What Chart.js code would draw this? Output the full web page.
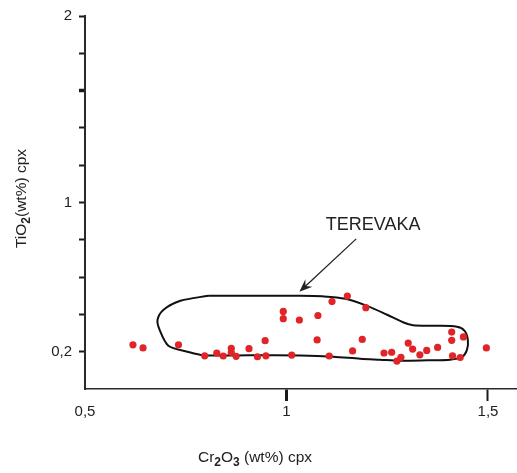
<!DOCTYPE html>
<html>
<head>
<meta charset="utf-8" />
<title>TiO2 vs Cr2O3 cpx</title>
<script src="https://cdn.jsdelivr.net/npm/chart.js@4.4.0/dist/chart.umd.min.js"></script>
<style>
  body { margin: 0; background: #fff; }
  canvas { display: block; }
</style>
</head>
<body>
<canvas id="chart" width="517" height="473"></canvas>
<script>
// clinopyroxene analyses, Cr2O3 (x) vs TiO2 (y), wt%
var cr2o3 = [0.619, 0.644, 0.732, 0.797, 0.827, 0.843, 0.863, 0.863, 0.875, 0.907,
             0.928, 0.947, 0.949, 0.992, 0.992, 1.013, 1.032, 1.078, 1.076, 1.106,
             1.113, 1.151, 1.197, 1.188, 1.164, 1.242, 1.261, 1.274, 1.284, 1.302,
             1.313, 1.331, 1.348, 1.375, 1.410, 1.410, 1.439, 1.412, 1.431, 1.496];
var tio2  = [0.237, 0.220, 0.237, 0.178, 0.193, 0.177, 0.218, 0.196, 0.175, 0.216,
             0.173, 0.259, 0.178, 0.416, 0.377, 0.182, 0.370, 0.394, 0.263, 0.177,
             0.469, 0.498, 0.436, 0.266, 0.204, 0.193, 0.197, 0.150, 0.170, 0.246,
             0.214, 0.183, 0.207, 0.223, 0.305, 0.261, 0.279, 0.178, 0.169, 0.220];

// Terevaka field outline
var fieldX = [0.806, 0.910, 1.034, 1.089, 1.146, 1.200, 1.250, 1.289, 1.314, 1.368,
              1.423, 1.442, 1.450, 1.448, 1.436, 1.406, 1.349, 1.282, 1.232, 1.183,
              1.116, 1.034, 0.910, 0.794, 0.754, 0.707, 0.685, 0.680, 0.695, 0.737, 0.806];
var fieldY = [0.500, 0.500, 0.500, 0.497, 0.484, 0.446, 0.398, 0.358, 0.342, 0.339,
              0.334, 0.312, 0.264, 0.211, 0.173, 0.157, 0.154, 0.152, 0.157, 0.162,
              0.173, 0.179, 0.181, 0.181, 0.200, 0.232, 0.318, 0.371, 0.425, 0.473, 0.500];
var fieldName = 'TEREVAKA';
var fieldLabelAt = [1.215, 0.880];
var arrowFrom = [1.173, 0.805];
var arrowTo = [1.032, 0.521];

var xTickValues = [0.5, 1, 1.5];
var xTickLabels = ['0,5', '1', '1,5'];
var yTickValues = [0.2, 0.4, 0.6, 0.8, 1, 1.2, 1.4, 1.6, 1.8, 2];
var yTickLabels = ['0,2', '', '', '', '1', '', '', '', '', '2'];

var FONT = "'Liberation Sans', Arial, sans-serif";
var INK = '#222';

var points = cr2o3.map(function (x, i) { return { x: x, y: tio2[i] }; });
var outline = fieldX.map(function (x, i) { return { x: x, y: fieldY[i] }; });

function drawSub(ctx, parts, size, subSize) {
  var w = 0;
  parts.forEach(function (p) {
    ctx.font = (p.sub ? 'bold ' + subSize : size) + 'px ' + FONT;
    p.w = ctx.measureText(p.t).width;
    w += p.w;
  });
  var x = -w / 2;
  parts.forEach(function (p) {
    ctx.font = (p.sub ? 'bold ' + subSize : size) + 'px ' + FONT;
    ctx.fillText(p.t, x, p.sub ? 5 : 0);
    x += p.w;
  });
}

var annotations = {
  id: 'annotations',
  afterDraw: function (chart) {
    var ctx = chart.ctx, xs = chart.scales.x, ys = chart.scales.y, a = chart.chartArea;
    ctx.save();
    ctx.fillStyle = INK;
    ctx.textBaseline = 'middle';
    ctx.textAlign = 'left';

    // axis titles
    ctx.save();
    ctx.translate(a.left + 170, a.bottom + 69);
    drawSub(ctx, [{ t: 'Cr' }, { t: '2', sub: true }, { t: 'O' }, { t: '3', sub: true }, { t: ' (wt%) cpx' }], 15.5, 12);
    ctx.restore();

    ctx.save();
    ctx.translate(22, (a.top + a.bottom) / 2 - 4);
    ctx.rotate(-Math.PI / 2);
    drawSub(ctx, [{ t: 'TiO' }, { t: '2', sub: true }, { t: '(wt%) cpx' }], 15.5, 12);
    ctx.restore();

    // field label and arrow
    ctx.font = '18px ' + FONT;
    ctx.textAlign = 'center';
    ctx.fillText(fieldName, xs.getPixelForValue(fieldLabelAt[0]), ys.getPixelForValue(fieldLabelAt[1]));

    var tx = xs.getPixelForValue(arrowFrom[0]), ty = ys.getPixelForValue(arrowFrom[1]);
    var hx = xs.getPixelForValue(arrowTo[0]), hy = ys.getPixelForValue(arrowTo[1]);
    var ang = Math.atan2(hy - ty, hx - tx);
    ctx.strokeStyle = INK;
    ctx.lineWidth = 1.3;
    ctx.beginPath();
    ctx.moveTo(tx, ty);
    ctx.lineTo(hx - 6 * Math.cos(ang), hy - 6 * Math.sin(ang));
    ctx.stroke();
    var L = 14, spread = 0.38;
    ctx.beginPath();
    ctx.moveTo(hx, hy);
    ctx.lineTo(hx - L * Math.cos(ang - spread), hy - L * Math.sin(ang - spread));
    ctx.lineTo(hx - 0.6 * L * Math.cos(ang), hy - 0.6 * L * Math.sin(ang));
    ctx.lineTo(hx - L * Math.cos(ang + spread), hy - L * Math.sin(ang + spread));
    ctx.closePath();
    ctx.fill();
    ctx.restore();
  }
};

new Chart(document.getElementById('chart'), {
  type: 'scatter',
  data: {
    datasets: [
      {
        label: 'cpx',
        data: points,
        backgroundColor: 'rgb(224,36,40)',
        borderWidth: 0,
        pointRadius: 3.6,
        order: 0
      },
      {
        label: fieldName,
        data: outline,
        showLine: true,
        fill: false,
        tension: 0.3,
        pointRadius: 0,
        borderColor: '#111',
        borderWidth: 2,
        order: 1
      }
    ]
  },
  options: {
    responsive: false,
    animation: false,
    events: [],
    layout: { autoPadding: false, padding: { top: 16, right: 0, left: 0, bottom: 0 } },
    plugins: { legend: { display: false }, tooltip: { enabled: false } },
    scales: {
      x: {
        type: 'linear',
        min: 0.5,
        max: 1.572,
        afterBuildTicks: function (s) { s.ticks = xTickValues.map(function (v) { return { value: v }; }); },
        afterFit: function (s) { s.height = 84; s.paddingRight = 0; s.paddingLeft = 0; },
        border: { display: true, color: '#2a2a2a', width: 1.5 },
        grid: {
          drawOnChartArea: false,
          drawTicks: true,
          tickLength: 12,
          tickColor: function (c) { return c.tick && c.tick.value === 0.5 ? 'rgba(0,0,0,0)' : '#1a1a1a'; },
          tickWidth: function (c) { return c.tick && c.tick.value === 1 ? 3 : 2; }
        },
        ticks: {
          autoSkip: false,
          maxRotation: 0,
          padding: 2,
          color: INK,
          font: { family: FONT, size: 15 },
          callback: function (v) { var i = xTickValues.indexOf(v); return i < 0 ? '' : xTickLabels[i]; }
        }
      },
      y: {
        type: 'linear',
        min: 0,
        max: 2,
        afterBuildTicks: function (s) { s.ticks = yTickValues.map(function (v) { return { value: v }; }); },
        afterFit: function (s) { s.width = 85; s.paddingTop = 0; s.paddingBottom = 0; },
        border: { display: true, color: '#2a2a2a', width: 2 },
        grid: {
          drawOnChartArea: false,
          drawTicks: true,
          tickLength: 6,
          tickColor: '#1a1a1a',
          tickWidth: function (c) { return c.tick && c.tick.value === 1.6 ? 3.5 : 2; }
        },
        ticks: {
          autoSkip: false,
          padding: 7,
          color: INK,
          font: { family: FONT, size: 15 },
          callback: function (v) { var i = yTickValues.indexOf(v); return i < 0 ? '' : yTickLabels[i]; }
        }
      }
    }
  },
  plugins: [annotations]
});
</script>
</body>
</html>
